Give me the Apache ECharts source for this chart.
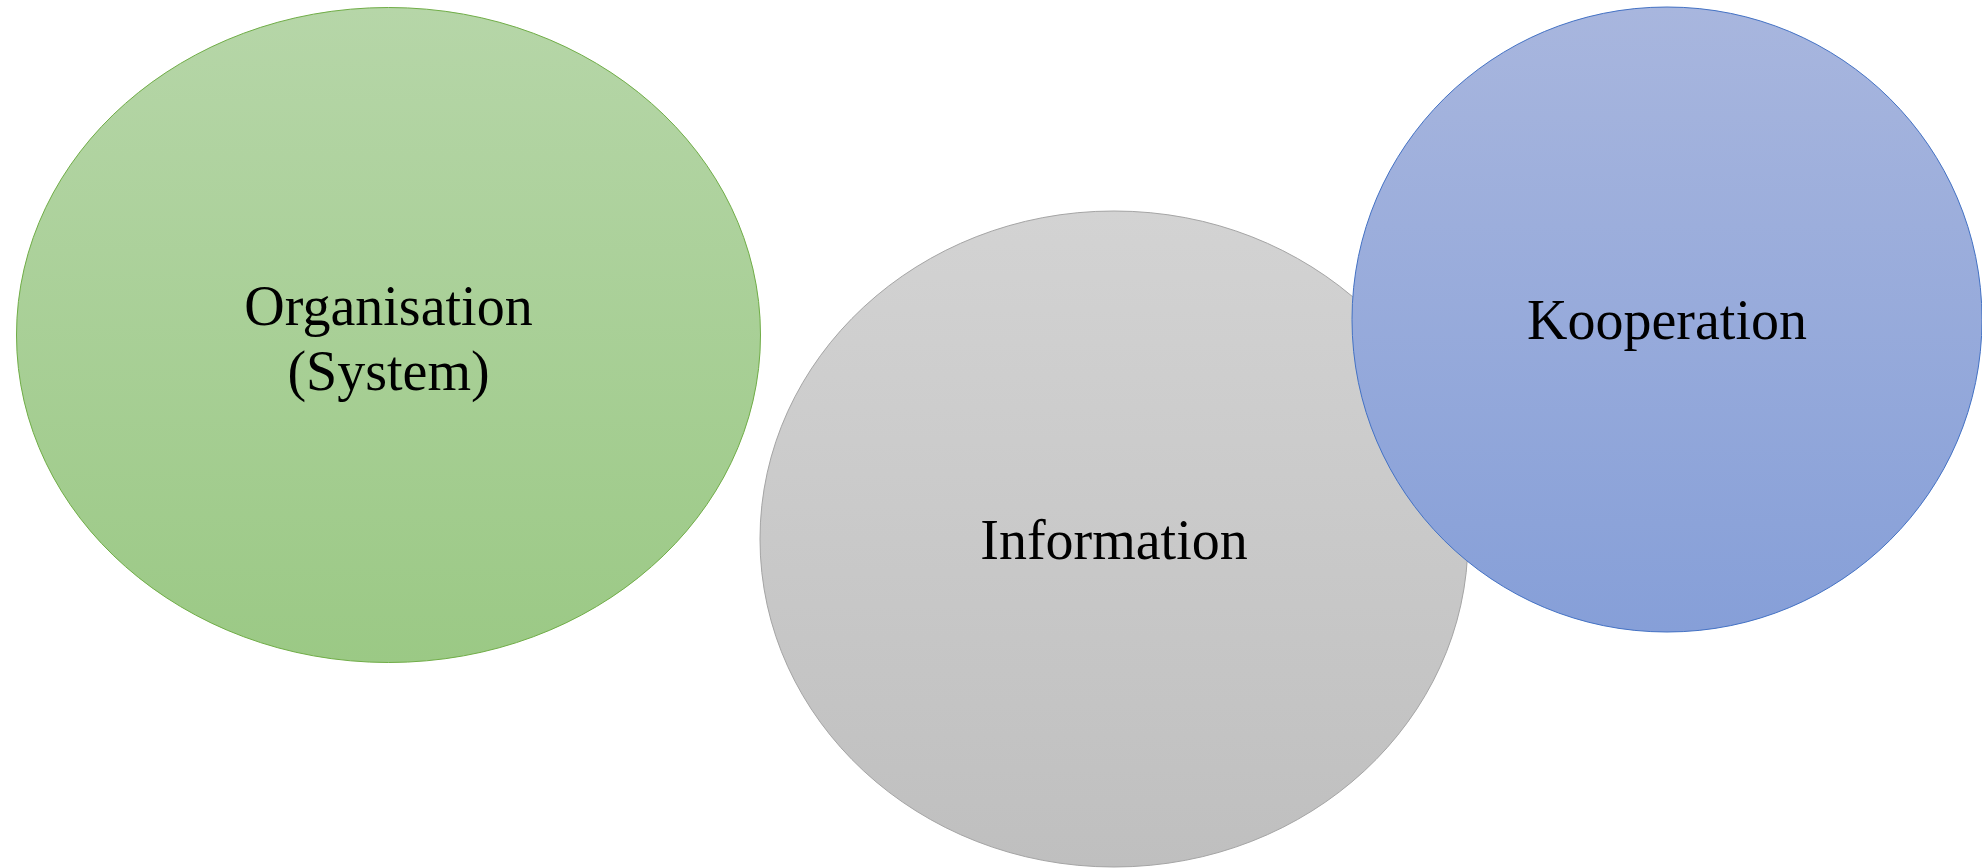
<!DOCTYPE html>
<html>
<head>
<meta charset="utf-8">
<script src="https://cdn.jsdelivr.net/npm/echarts@6/dist/echarts.min.js"></script>
<style>
html,body{margin:0;padding:0;background:#fff;}
#chart{width:1982px;height:868px;}
</style>
</head>
<body>
<div id="chart"></div>
<script>
// Shapes (in page units of the 1982 x 868 canvas)
const labels = ['Organisation\n(System)', 'Information', 'Kooperation'];
const centerX = [388.5, 1114, 1667];
const centerY = [335, 539, 319.5];
const radiusX = [372, 354, 315];
const radiusY = [327.5, 328, 312.5];

const fillTop = ['#b6d6a8', '#d3d3d3', '#a8b6de'];
const fillBottom = ['#9bc985', '#bfbfbf', '#869fd8'];
const strokeColors = ['#70ad47', '#a5a5a5', '#4472c4'];
const textDy = [8, 5, 5];

const seriesData = labels.map((l, i) => [centerX[i], centerY[i], radiusX[i], radiusY[i], i]);

const chart = echarts.init(document.getElementById('chart'), null, {renderer: 'canvas'});
chart.setOption({
  animation: false,
  backgroundColor: '#ffffff',
  grid: {left: 0, right: 0, top: 0, bottom: 0},
  xAxis: {type: 'value', min: 0, max: 1982, show: false},
  yAxis: {type: 'value', min: 0, max: 868, inverse: true, show: false},
  series: [{
    type: 'custom',
    coordinateSystem: 'cartesian2d',
    clip: false,
    data: seriesData,
    renderItem: function (params, api) {
      const i = api.value(4);
      const c = api.coord([api.value(0), api.value(1)]);
      const s = api.size([api.value(2), api.value(3)]);
      return {
        type: 'group',
        children: [{
          type: 'ellipse',
          shape: {cx: c[0], cy: c[1], rx: s[0], ry: s[1]},
          style: {
            fill: new echarts.graphic.LinearGradient(0, 0, 0, 1, [
              {offset: 0, color: fillTop[i]},
              {offset: 1, color: fillBottom[i]}
            ]),
            stroke: strokeColors[i],
            lineWidth: 1
          }
        }, {
          type: 'text',
          x: c[0],
          y: c[1] + textDy[i],
          style: {
            text: labels[i],
            fill: '#000000',
            font: '56px "Liberation Serif"',
            lineHeight: 65,
            align: 'center',
            verticalAlign: 'middle'
          }
        }]
      };
    }
  }]
});
</script>
</body>
</html>
